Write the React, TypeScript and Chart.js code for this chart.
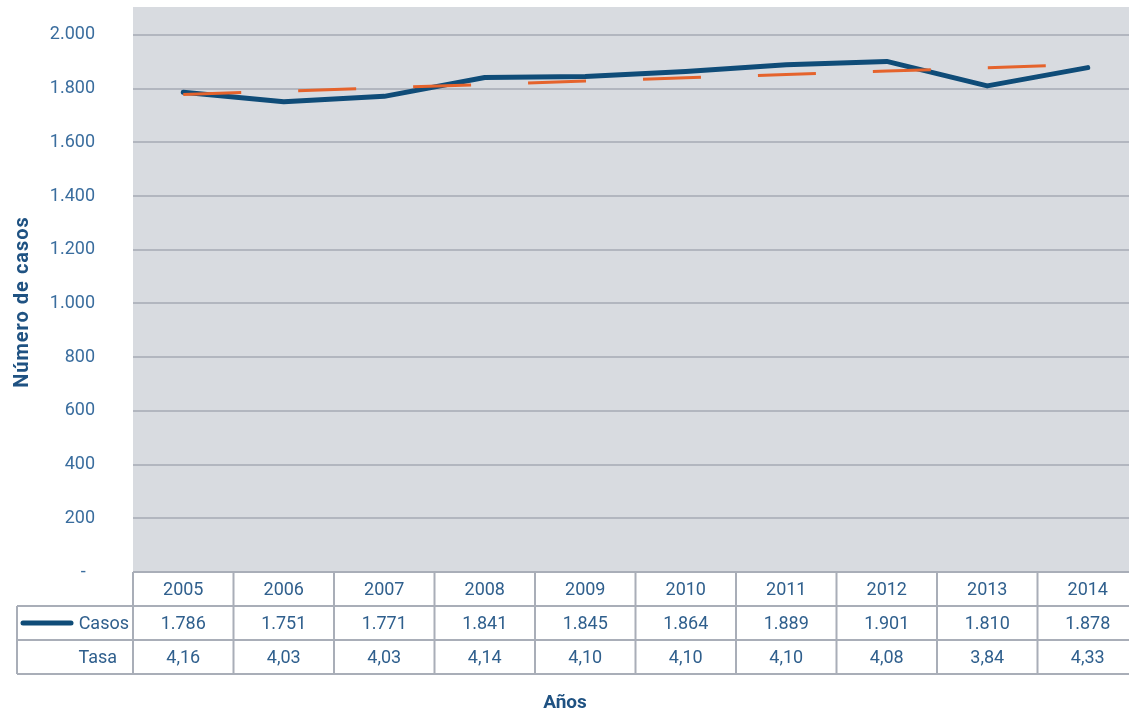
import React, { useEffect, useRef } from "react";
import { Chart, registerables } from "chart.js";

Chart.register(...registerables);

const years = ["2005", "2006", "2007", "2008", "2009", "2010", "2011", "2012", "2013", "2014"];
const casos = [1786, 1751, 1771, 1841, 1845, 1864, 1889, 1901, 1810, 1878];
const tasa = ["4,16", "4,03", "4,03", "4,14", "4,10", "4,10", "4,10", "4,08", "3,84", "4,33"];
const trend = [1778, 1790, 1803, 1815, 1828, 1840, 1852, 1865, 1877, 1890];
const yTicks = [0, 200, 400, 600, 800, 1000, 1200, 1400, 1600, 1800, 2000];

const fmt = (v: number) => (v === 0 ? "-" : v.toLocaleString("de-DE"));

const W = 1138;
const H = 713;

const tablePlugin = {
  id: "tablePlugin",
  beforeDraw(chart: any) {
    const { ctx, chartArea } = chart;
    ctx.save();
    ctx.fillStyle = "#d8dbe0";
    ctx.fillRect(chartArea.left, chartArea.top - 1, chartArea.right - chartArea.left, chartArea.bottom - chartArea.top + 1);
    ctx.restore();
  },
  afterDraw(chart: any) {
    const { ctx, chartArea } = chart;
    const x = chart.scales.x;
    const colW = x.getPixelForValue(1) - x.getPixelForValue(0);
    const top = chartArea.bottom;
    const r1 = top + 34;
    const r2 = r1 + 34;
    const r3 = r2 + 34;
    const left = 17;
    ctx.save();
    ctx.strokeStyle = "#a9aeb8";
    ctx.lineWidth = 2;
    ctx.beginPath();
    ctx.moveTo(chartArea.left, top);
    ctx.lineTo(W, top);
    [r1, r2, r3].forEach((yy) => {
      ctx.moveTo(left, yy);
      ctx.lineTo(W, yy);
    });
    ctx.moveTo(left, r1);
    ctx.lineTo(left, r3);
    for (let i = 0; i <= years.length; i++) {
      const xx = x.getPixelForValue(0) - colW / 2 + i * colW;
      ctx.moveTo(xx, top);
      ctx.lineTo(xx, r3);
    }
    ctx.stroke();

    ctx.fillStyle = "#2f5f8d";
    ctx.font = "18px Roboto";
    ctx.textAlign = "center";
    ctx.textBaseline = "middle";
    years.forEach((yr, i) => {
      const cx = x.getPixelForValue(i);
      ctx.fillText(yr, cx, (top + r1) / 2 + 1);
      ctx.fillText(fmt(casos[i]), cx, (r1 + r2) / 2 + 1);
      ctx.fillText(tasa[i], cx, (r2 + r3) / 2 + 1);
    });
    ctx.textAlign = "right";
    ctx.fillText("Casos", 129, (r1 + r2) / 2 + 1);
    ctx.fillText("Tasa", 117, (r2 + r3) / 2 + 1);

    // legend sample
    ctx.strokeStyle = "#0f4c78";
    ctx.lineWidth = 5;
    ctx.lineCap = "round";
    ctx.beginPath();
    ctx.moveTo(23, (r1 + r2) / 2);
    ctx.lineTo(71, (r1 + r2) / 2);
    ctx.stroke();

    // axis titles
    ctx.fillStyle = "#1f5282";
    ctx.font = "bold 19px Roboto";
    ctx.textAlign = "center";
    ctx.fillText("Años", 565, 703);
    ctx.font = "bold 20px Roboto";
    (ctx as any).letterSpacing = "1px";
    ctx.translate(23, 302);
    ctx.rotate(-Math.PI / 2);
    ctx.fillText("Número de casos", 0, 0);
    ctx.restore();
  },
};

export default function App() {
  const ref = useRef<HTMLCanvasElement | null>(null);
  useEffect(() => {
    document.body.style.margin = "0";
    document.body.style.overflow = "hidden";
    const canvas = ref.current!;
    const chart = new Chart(canvas, {
      type: "line",
      data: {
        labels: years,
        datasets: [
          {
            label: "Tendencia",
            data: trend,
            borderColor: "#e5632c",
            borderWidth: 3,
            borderDash: [58, 57],
            pointRadius: 0,
            tension: 0,
          },
          {
            label: "Casos",
            data: casos,
            borderColor: "#0f4c78",
            borderWidth: 5,
            borderCapStyle: "round",
            borderJoinStyle: "round",
            pointRadius: 0,
            tension: 0,
          },
        ],
      },
      options: {
        responsive: false,
        animation: false,
        devicePixelRatio: 1,
        layout: { padding: { left: 0, right: 0, top: 8, bottom: 141 } },
        plugins: { legend: { display: false }, tooltip: { enabled: false }, title: { display: false } },
        scales: {
          x: { type: "category", display: false, offset: true },
          y: {
            min: 0,
            max: 2100,
            afterBuildTicks: (s: any) => {
              s.ticks = yTicks.map((v) => ({ value: v }));
            },
            afterFit: (s: any) => {
              s.width = 133;
              s.paddingTop = 0;
              s.paddingBottom = 0;
            },
            border: { display: false },
            grid: { color: "#b2b6bf", lineWidth: 2, drawTicks: false },
            ticks: {
              padding: 38,
              color: "#3a6d9e",
              font: { family: "Roboto", size: 18 },
              callback: (v: any) => (Number(v) === 0 ? "-\u2002" : fmt(Number(v))),
            },
          },
        },
      },
      plugins: [tablePlugin],
    } as any);
    return () => chart.destroy();
  }, []);
  return (
    <div style={{ width: W, height: H, position: "relative" }}>
      <canvas ref={ref} width={W} height={H} style={{ display: "block" }} />
    </div>
  );
}
